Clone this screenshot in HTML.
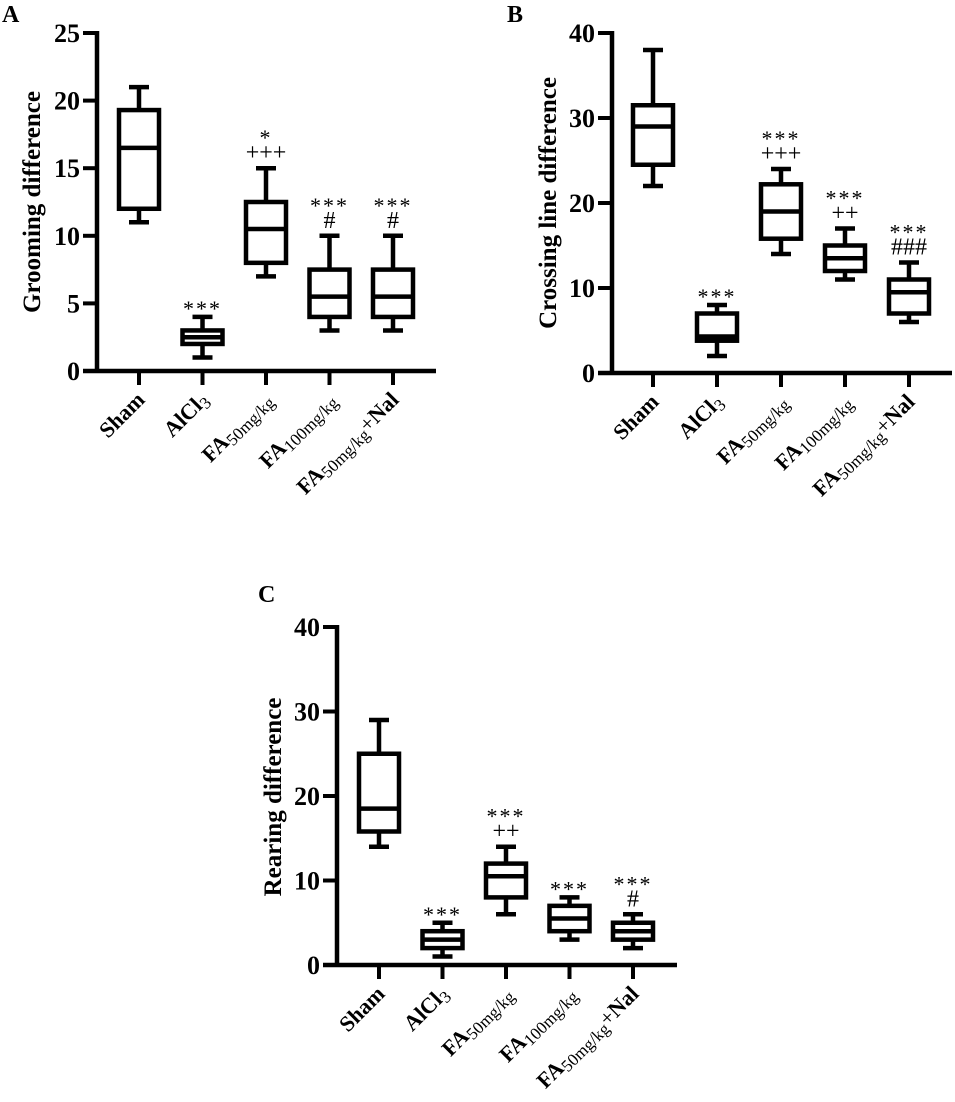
<!DOCTYPE html>
<html><head><meta charset="utf-8"><style>
html,body{margin:0;padding:0;background:#fff;}
svg{display:block;font-family:"Liberation Serif",serif;}
</style></head><body>
<svg id="fig" width="955" height="1102" viewBox="0 0 955 1102"></svg>
<script>
const categories = ["Sham","AlCl3","FA50","FA100","FA50+Nal"];
const groomMin = [11,1,7,3,3];
const groomQ1 = [12,2,8,4,4];
const groomMed = [16.5,2.5,10.5,5.5,5.5];
const groomQ3 = [19.3,3,12.5,7.5,7.5];
const groomMax = [21,4,15,10,10];
const groomTicks = [0,5,10,15,20,25];
const groomSig = [[], ["***"], ["*","+++"], ["***","#"], ["***","#"]];
const crossMin = [22,2,14,11,6];
const crossQ1 = [24.5,3.8,15.8,12,7];
const crossMed = [29,4.3,19,13.5,9.5];
const crossQ3 = [31.5,7,22.2,15,11];
const crossMax = [38,8,24,17,13];
const crossTicks = [0,10,20,30,40];
const crossSig = [[], ["***"], ["***","+++"], ["***","++"], ["***","###"]];
const rearMin = [14,1,6,3,2];
const rearQ1 = [15.8,2,8,4,3];
const rearMed = [18.5,3,10.5,5.5,4];
const rearQ3 = [25,4,12,7,5];
const rearMax = [29,5,14,8,6];
const rearTicks = [0,10,20,30,40];
const rearSig = [[], ["***"], ["***","++"], ["***"], ["***","#"]];

const NS="http://www.w3.org/2000/svg";
const svg=document.getElementById('fig');
function mk(tag,attrs,parent){const e=document.createElementNS(NS,tag);for(const k in attrs)e.setAttribute(k,attrs[k]);(parent||svg).appendChild(e);return e;}

function panel(cfg){
  const g=mk('g',{});
  
  
  const y=v=>cfg.y0-(v/cfg.ymax)*(cfg.y0-cfg.ytop);
  const xs=i=>cfg.x0+i*cfg.dx;
  const lt=mk('text',{x:cfg.lx,y:cfg.ly,'font-size':24,'font-weight':'bold'},g);lt.textContent=cfg.letter;
  
  
  const ax=mk('line',{x1:cfg.ax,y1:cfg.ytop-2,x2:cfg.ax,y2:cfg.y0+2,stroke:'#000','stroke-width':4.5},g);
  
  
  const xa=mk('line',{x1:cfg.ax-14,y1:cfg.y0,x2:cfg.xend,y2:cfg.y0,stroke:'#000','stroke-width':4.5},g);
  
  
  cfg.ticks.forEach(t=>{
    mk('line',{x1:cfg.ax-14,y1:y(t),x2:cfg.ax,y2:y(t),stroke:'#000','stroke-width':4},g);
    const tl=mk('text',{x:cfg.ax-17,y:y(t)+9,'font-size':26,'font-weight':'bold','text-anchor':'end'},g);tl.textContent=t;
    
    
  });
  const yt=mk('text',{x:0,y:0,'font-size':25,'font-weight':'bold','text-anchor':'middle',transform:`translate(${cfg.tx},${cfg.ty}) rotate(-90)`},g);
  yt.textContent=cfg.title;
  
  
  const bw=40, cw=20;
  categories.forEach((c,i)=>{
    const cx=xs(i);
    mk('line',{x1:cx,y1:cfg.y0,x2:cx,y2:cfg.y0+14,stroke:'#000','stroke-width':4},g);
    const bg=mk('g',{fill:'none',stroke:'#000','stroke-width':4.5},g);
    
    
    mk('line',{x1:cx,y1:y(cfg.max[i]),x2:cx,y2:y(cfg.q3[i]),},bg);
    mk('line',{x1:cx,y1:y(cfg.min[i]),x2:cx,y2:y(cfg.q1[i]),},bg);
    mk('line',{x1:cx-cw/2,y1:y(cfg.max[i]),x2:cx+cw/2,y2:y(cfg.max[i])},bg);
    mk('line',{x1:cx-cw/2,y1:y(cfg.min[i]),x2:cx+cw/2,y2:y(cfg.min[i])},bg);
    mk('rect',{x:cx-bw/2,y:y(cfg.q3[i]),width:bw,height:y(cfg.q1[i])-y(cfg.q3[i]),fill:'#fff'},bg);
    mk('line',{x1:cx-bw/2,y1:y(cfg.med[i]),x2:cx+bw/2,y2:y(cfg.med[i])},bg);
    const sig=cfg.sig[i];
    sig.forEach((s,k)=>{
      const n=sig.length-k;
      const st=mk('text',{x:cx,y:y(cfg.max[i])-8-(n-1)*22+(s.startsWith('*')?7:0),'font-size':s.startsWith('*')?22:24,'text-anchor':'middle','letter-spacing':s.startsWith('*')?2:0},g);
      st.textContent=s;
      
      
    });
    const lx=cx+7, ly=cfg.y0+30;
    const t=mk('text',{x:0,y:0,'font-size':22,'text-anchor':'end',transform:`translate(${lx},${ly}) rotate(-45)`},g);
    
    
    const parts={
      "Sham":[["Sham",'b',0]],
      "AlCl3":[["AlCl",'b',0],["3",'n',1]],
      "FA50":[["FA",'b',0],["50mg/kg",'n',1]],
      "FA100":[["FA",'b',0],["100mg/kg",'n',1]],
      "FA50+Nal":[["FA",'b',0],["50mg/kg",'n',1],["+",'n',0],["Nal",'b',0]]
    }[c];
    parts.forEach(p=>{const ts=mk('tspan',{'font-weight':p[1]=='b'?'bold':'normal','font-size':p[2]?17:22,dy:p[2]?4:0},t);ts.textContent=p[0];
      if(p[2]){ ts._sub=true; }});
    let prevSub=false;
    Array.from(t.childNodes).forEach(ts=>{if(prevSub&&!ts._sub)ts.setAttribute('dy',-4);prevSub=!!ts._sub;});
  });
}
panel({name:'panel-a-grooming',letter:'A',lx:2,ly:22,ax:97,ytop:33,y0:371,ymax:25,xend:436,x0:139,dx:63.5,ticks:groomTicks,title:'Grooming difference',tx:40,ty:202,min:groomMin,q1:groomQ1,med:groomMed,q3:groomQ3,max:groomMax,sig:groomSig});
panel({name:'panel-b-crossing',letter:'B',lx:507,ly:22,ax:612,ytop:33,y0:373,ymax:40,xend:952,x0:653,dx:64,ticks:crossTicks,title:'Crossing line difference',tx:556,ty:203,min:crossMin,q1:crossQ1,med:crossMed,q3:crossQ3,max:crossMax,sig:crossSig});
panel({name:'panel-c-rearing',letter:'C',lx:258,ly:602,ax:337,ytop:627,y0:965,ymax:40,xend:677,x0:379,dx:63.5,ticks:rearTicks,title:'Rearing difference',tx:281,ty:797,min:rearMin,q1:rearQ1,med:rearMed,q3:rearQ3,max:rearMax,sig:rearSig});
</script>
</body></html>
